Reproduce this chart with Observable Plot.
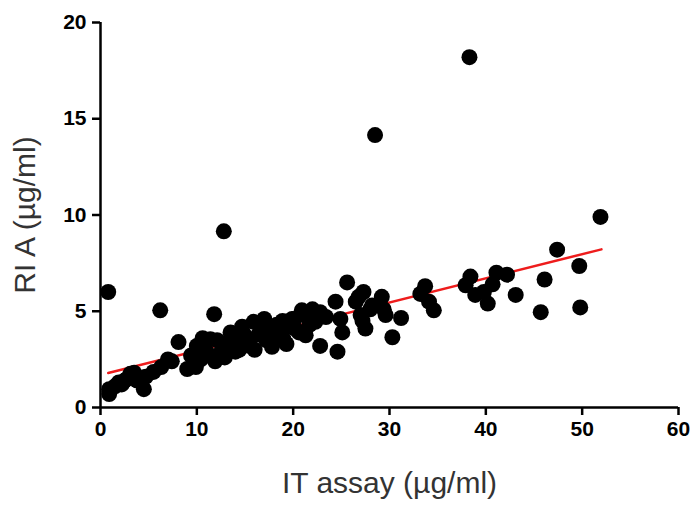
<!DOCTYPE html>
<html>
<head>
<meta charset="utf-8">
<script src="https://cdn.jsdelivr.net/npm/d3@7"></script>
<script src="https://cdn.jsdelivr.net/npm/@observablehq/plot@0.6"></script>
<style>
  html, body { margin: 0; padding: 0; background: #fff; }
  #chart svg { display: block; }
</style>
</head>
<body>
<div id="chart"></div>
<script>
// IT assay (µg/ml) values
const itAssay = [
  0.8, 0.9, 0.9, 1.5, 1.9, 2.5, 2.8, 3.1, 3.5, 4.5,
  4.7, 6.2, 6.3, 7.0, 7.4, 8.1, 9.0, 9.4, 9.9, 10.0,
  10.4, 10.7, 10.6, 11.4, 11.9, 11.8, 12.1, 12.8, 12.6, 12.4,
  13.5, 13.2, 14.0, 14.5, 14.7, 14.9, 15.5, 15.9, 16.0, 16.4,
  17.0, 17.2, 17.5, 18.0, 18.3, 18.6, 19.0, 19.3, 19.5, 19.9,
  20.2, 20.1, 20.9, 21.1, 21.3, 22.0, 22.3, 22.8, 22.8, 23.4,
  24.4, 24.6, 24.9, 25.1, 25.6, 26.5, 26.8, 27.2, 27.3, 27.5,
  27.0, 28.0, 28.2, 28.5, 29.2, 29.4, 29.6, 30.3, 31.2, 33.2,
  33.7, 34.1, 34.6, 37.9, 38.4, 38.3, 38.9, 39.8, 40.2, 40.7,
  41.1, 42.2, 43.1, 45.7, 46.1, 47.4, 49.7, 49.8, 51.9,
  2.2, 3.8, 5.5, 11.0, 12.9, 13.8, 14.4, 15.2, 16.8, 17.8,
  18.9, 20.6, 21.7
];
// RIA (µg/ml) values
const ria = [
  6.0, 0.95, 0.7, 1.1, 1.3, 1.4, 1.5, 1.75, 1.8, 0.95,
  1.6, 5.05, 2.1, 2.5, 2.4, 3.4, 2.0, 2.7, 2.1, 3.2,
  2.5, 3.05, 3.6, 3.55, 2.4, 4.85, 3.5, 9.15, 3.3, 2.8,
  3.9, 3.2, 2.9, 3.4, 4.2, 3.8, 3.2, 4.45, 3.0, 3.8,
  4.6, 3.5, 4.2, 3.9, 4.3, 3.7, 3.55, 3.3, 4.2, 4.6,
  4.1, 4.6, 5.05, 4.8, 3.75, 5.1, 4.45, 3.2, 4.95, 4.7,
  5.5, 2.9, 4.6, 3.9, 6.5, 5.5, 5.75, 4.5, 6.0, 4.1,
  4.8, 5.1, 5.3, 14.15, 5.75, 5.1, 4.8, 3.65, 4.65, 5.9,
  6.3, 5.5, 5.05, 6.35, 6.8, 18.2, 5.85, 6.0, 5.4, 6.4,
  7.0, 6.9, 5.85, 4.95, 6.65, 8.2, 7.35, 5.2, 9.9,
  1.2, 1.4, 1.85, 2.9, 2.6, 3.6, 3.0, 3.6, 4.1, 3.15,
  4.5, 3.9, 4.3
];
// Linear fit shown in red
const fitIntercept = 1.69;
const fitSlope = 0.1255;
const fitXRange = [0.8, 52];

const xTicks = [0, 10, 20, 30, 40, 50, 60];
const yTicks = [0, 5, 10, 15, 20];
const xDomain = [0, 60];
const yDomain = [0, 20];
const xTitle = "IT assay (µg/ml)";
const yTitle = "RI A (µg/ml)";

const points = itAssay.map((x, i) => ({x, y: ria[i]}));
const fit = fitXRange.map(x => ({x, y: fitIntercept + fitSlope * x}));

const chart = Plot.plot({
  width: 693,
  height: 506,
  marginLeft: 100,
  marginRight: 15,
  marginTop: 22,
  marginBottom: 99,
  style: {fontFamily: "'Liberation Sans', Arial, sans-serif", background: "#fff", color: "#000"},
  x: {domain: xDomain},
  y: {domain: yDomain},
  marks: [
    Plot.axisX({ticks: xTicks, tickSize: 8, tickPadding: 6, strokeWidth: 2.5, label: null,
      fontSize: 21, fontWeight: "bold", fill: "#000"}),
    Plot.axisY({ticks: yTicks, tickSize: 8, tickPadding: 6, strokeWidth: 2.5, label: null,
      fontSize: 21, fontWeight: "bold", fill: "#000"}),
    Plot.ruleY([yDomain[0]], {x1: xDomain[0], x2: xDomain[1], stroke: "#000", strokeWidth: 2.5}),
    Plot.ruleX([xDomain[0]], {y1: yDomain[0], y2: yDomain[1], stroke: "#000", strokeWidth: 2.5}),
    Plot.line(fit, {x: "x", y: "y", stroke: "#ee1c1c", strokeWidth: 2.5}),
    Plot.dot(points, {x: "x", y: "y", r: 8, fill: "#000", stroke: "none"}),
    Plot.text([xTitle], {frameAnchor: "bottom", dy: 85, textAnchor: "middle", lineAnchor: "bottom",
      fontSize: 30, fill: "#333", text: d => d}),
    Plot.text([yTitle], {frameAnchor: "left", dx: -75, rotate: -90, textAnchor: "middle",
      fontSize: 30, fill: "#333", text: d => d})
  ]
});
document.getElementById("chart").appendChild(chart);
</script>
</body>
</html>
